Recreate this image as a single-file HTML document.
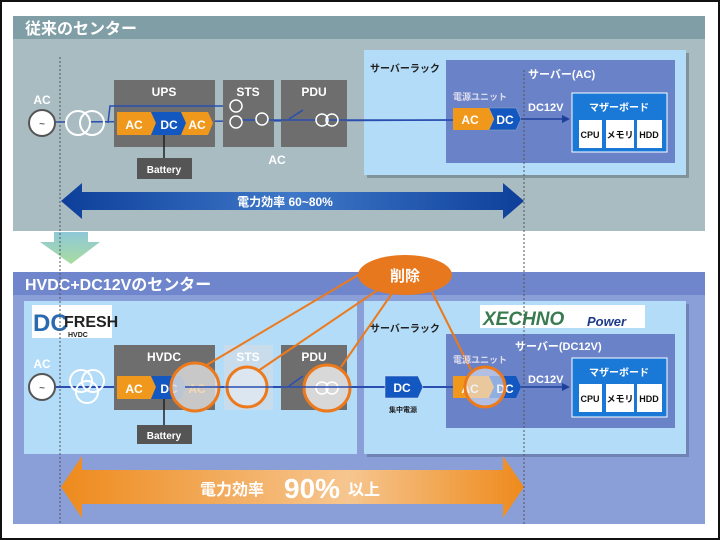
<!DOCTYPE html>
<html><head><meta charset="utf-8"><style>
html,body{margin:0;padding:0;background:#fff}
svg{display:block}
text{font-family:"Liberation Sans","Noto Sans CJK JP",sans-serif;font-weight:bold}
</style></head><body>
<svg width="720" height="540" viewBox="0 0 720 540" xmlns="http://www.w3.org/2000/svg">
<defs>
<linearGradient id="bl" x1="0" x2="1" y1="0" y2="0"><stop offset="0" stop-color="#0d3f9a"/><stop offset="0.5" stop-color="#3f78c8"/><stop offset="1" stop-color="#0d3f9a"/></linearGradient>
<linearGradient id="or" x1="0" x2="1" y1="0" y2="0"><stop offset="0" stop-color="#ee8a1c"/><stop offset="0.62" stop-color="#f6c690"/><stop offset="1" stop-color="#ee8a1c"/></linearGradient>
<linearGradient id="gr" x1="0" x2="0" y1="0" y2="1"><stop offset="0" stop-color="#8fc8d8"/><stop offset="1" stop-color="#a8dca0"/></linearGradient>
</defs>
<rect x="0" y="0" width="720" height="540" fill="#fff" stroke="#111" stroke-width="4"/>
<!-- TOP -->
<rect x="13" y="16" width="692" height="23" fill="#7f9ea6"/>
<rect x="13" y="39" width="692" height="192" fill="#a9bcc2"/>
<text x="25" y="34" font-size="16" fill="#fff">従来のセンター</text>
<rect x="367" y="53" width="322" height="125" fill="#5a6a70" opacity="0.5"/>
<rect x="364" y="50" width="322" height="125" fill="#b3dcf8"/>
<text x="370" y="72" font-size="10" fill="#222">サーバーラック</text>
<rect x="446" y="60" width="229" height="103" fill="#6a82c8"/>
<text x="528" y="78" font-size="11" fill="#fff">サーバー(AC)</text>
<line x1="55" y1="122" x2="460" y2="120" stroke="#2a4eb0" stroke-width="1.5"/>
<circle cx="42" cy="123" r="13" fill="#fff" stroke="#555" stroke-width="2"/>
<text x="42" y="127" font-size="10" fill="#666" text-anchor="middle">~</text>
<text x="42" y="104" font-size="12" fill="#fff" text-anchor="middle">AC</text>
<circle cx="78" cy="123" r="12" fill="#a9bcc2" stroke="#fff" stroke-width="2"/>
<circle cx="92" cy="123" r="12" fill="none" stroke="#fff" stroke-width="2"/>
<rect x="114" y="80" width="101" height="67" fill="#6e6e6e"/>
<text x="164" y="96" font-size="12" fill="#fff" text-anchor="middle">UPS</text>
<polyline points="108,123 110,106 232,106" fill="none" stroke="#2a4eb0" stroke-width="1.5"/>
<polygon points="117,112 151,112 156,123 151,135 117,135" fill="#f0981c"/>
<polygon points="151,112 181,112 186,123 181,135 151,135 156,123" fill="#1258c0"/>
<polygon points="181,112 208,112 213,123 208,135 181,135 186,123" fill="#f0981c"/>
<text x="134" y="129" font-size="12" fill="#fff" text-anchor="middle">AC</text>
<text x="169" y="129" font-size="12" fill="#fff" text-anchor="middle">DC</text>
<text x="197" y="129" font-size="12" fill="#fff" text-anchor="middle">AC</text>
<line x1="164" y1="135" x2="164" y2="158" stroke="#222" stroke-width="1.5"/>
<rect x="137" y="158" width="55" height="21" fill="#555"/>
<text x="164" y="173" font-size="10" fill="#fff" text-anchor="middle">Battery</text>
<rect x="223" y="80" width="51" height="67" fill="#6e6e6e"/>
<text x="248" y="96" font-size="12" fill="#fff" text-anchor="middle">STS</text>
<rect x="281" y="80" width="66" height="67" fill="#6e6e6e"/>
<text x="314" y="96" font-size="12" fill="#fff" text-anchor="middle">PDU</text>
<line x1="240" y1="120" x2="460" y2="120" stroke="#2a4eb0" stroke-width="1.5"/>
<circle cx="236" cy="106" r="6" fill="#6e6e6e" stroke="#fff" stroke-width="1.5"/>
<circle cx="236" cy="122" r="6" fill="#6e6e6e" stroke="#fff" stroke-width="1.5"/>
<circle cx="262" cy="119" r="6" fill="#6e6e6e" stroke="#fff" stroke-width="1.5"/>
<line x1="289" y1="119" x2="303" y2="110" stroke="#2a4eb0" stroke-width="1.5"/>
<circle cx="322" cy="120" r="6" fill="#6e6e6e" stroke="#fff" stroke-width="1.5"/>
<circle cx="332" cy="120" r="6" fill="none" stroke="#fff" stroke-width="1.5"/>
<text x="277" y="164" font-size="12" fill="#fff" text-anchor="middle">AC</text>
<text x="453" y="100" font-size="9" fill="#dde">電源ユニット</text>
<polygon points="453,108 489,108 494,119 489,130 453,130" fill="#f0981c"/>
<polygon points="489,108 516,108 521,119 516,130 489,130 494,119" fill="#1258c0" stroke="#9ab" stroke-width="0.5"/>
<text x="470" y="124" font-size="12" fill="#fff" text-anchor="middle">AC</text>
<text x="505" y="124" font-size="12" fill="#fff" text-anchor="middle">DC</text>
<text x="528" y="111" font-size="11" fill="#fff">DC12V</text>
<line x1="521" y1="119" x2="564" y2="119" stroke="#1e3f9a" stroke-width="1.5"/>
<polygon points="570,119 562,115 562,123" fill="#1e3f9a"/>
<rect x="572" y="93" width="95" height="59" fill="#1a78d6" stroke="#fff" stroke-width="1"/>
<text x="619" y="111" font-size="10" fill="#fff" text-anchor="middle">マザーボード</text>
<rect x="579" y="120" width="23" height="28" fill="#fff"/><text x="590" y="138" font-size="9" fill="#111" text-anchor="middle" font-weight="normal">CPU</text>
<rect x="606" y="120" width="28" height="28" fill="#fff"/><text x="620" y="138" font-size="9" fill="#111" text-anchor="middle" font-weight="normal">メモリ</text>
<rect x="637" y="120" width="25" height="28" fill="#fff"/><text x="649" y="138" font-size="9" fill="#111" text-anchor="middle" font-weight="normal">HDD</text>
<polygon points="61,201 82,183 82,192 503,192 503,183 524,201 503,219 503,210 82,210 82,219" fill="url(#bl)"/>
<text x="285" y="206" font-size="12" fill="#fff" text-anchor="middle">電力効率 60~80%</text>
<polygon points="54,232 88,232 88,242 100,242 71,264 40,242 54,242" fill="url(#gr)"/>
<!-- BOTTOM -->
<rect x="13" y="272" width="692" height="23" fill="#6f86cc"/>
<rect x="13" y="295" width="692" height="229" fill="#8a9fd8"/>
<text x="25" y="290" font-size="16" fill="#fff">HVDC+DC12Vのセンター</text>
<rect x="24" y="301" width="333" height="153" fill="#b3dcf8"/>
<rect x="367" y="304" width="322" height="153" fill="#4a5a80" opacity="0.4"/>
<rect x="364" y="301" width="322" height="153" fill="#b3dcf8"/>
<rect x="32" y="305" width="80" height="33" fill="#fff"/>
<text x="33" y="331" font-size="24" fill="#2a6ab0" font-weight="normal">DC</text>
<text x="64" y="327" font-size="16" fill="#222" font-weight="normal">FRESH</text>
<text x="68" y="337" font-size="7" fill="#222" font-weight="normal">HVDC</text>
<rect x="480" y="305" width="165" height="23" fill="#fff"/>
<text x="483" y="325" font-size="19" fill="#3a7a50" font-style="italic">XECHNO</text>
<text x="587" y="326" font-size="13" fill="#1e3a8a" font-style="italic">Power</text>
<text x="370" y="332" font-size="10" fill="#222">サーバーラック</text>
<rect x="446" y="334" width="229" height="94" fill="#6a82c8"/>
<text x="515" y="350" font-size="11" fill="#fff">サーバー(DC12V)</text>
<line x1="55" y1="387" x2="455" y2="387" stroke="#2a4eb0" stroke-width="2"/>
<circle cx="42" cy="387" r="13" fill="#fff" stroke="#555" stroke-width="2"/>
<text x="42" y="391" font-size="10" fill="#666" text-anchor="middle">~</text>
<text x="42" y="368" font-size="12" fill="#fff" text-anchor="middle">AC</text>
<circle cx="81" cy="381" r="11" fill="none" stroke="#fff" stroke-width="2"/>
<circle cx="93" cy="381" r="11" fill="none" stroke="#fff" stroke-width="2"/>
<circle cx="87" cy="392" r="11" fill="none" stroke="#fff" stroke-width="2"/>
<rect x="114" y="345" width="101" height="65" fill="#6e6e6e"/>
<text x="164" y="361" font-size="12" fill="#fff" text-anchor="middle">HVDC</text>
<polygon points="117,376 151,376 156,387 151,399 117,399" fill="#f0981c"/>
<polygon points="151,376 181,376 186,387 181,399 151,399 156,387" fill="#1258c0"/>
<text x="134" y="393" font-size="12" fill="#fff" text-anchor="middle">AC</text>
<text x="169" y="393" font-size="12" fill="#fff" text-anchor="middle">DC</text>
<line x1="164" y1="399" x2="164" y2="425" stroke="#222" stroke-width="1.5"/>
<rect x="137" y="425" width="55" height="19" fill="#555"/>
<text x="164" y="439" font-size="10" fill="#fff" text-anchor="middle">Battery</text>
<rect x="224" y="345" width="49" height="65" fill="#c8dcec"/>
<text x="248" y="361" font-size="12" fill="#fff" text-anchor="middle">STS</text>
<rect x="281" y="345" width="66" height="65" fill="#6e6e6e"/>
<text x="314" y="361" font-size="12" fill="#fff" text-anchor="middle">PDU</text>
<g stroke="#ec7a1c" stroke-width="2">
<line x1="205" y1="366" x2="370" y2="268"/>
<line x1="258" y1="371" x2="385" y2="285"/>
<line x1="341" y1="367" x2="393" y2="292"/>
<line x1="471" y1="370" x2="431" y2="290"/>
</g>
<circle cx="195" cy="387" r="24" fill="#d8d8d8" fill-opacity="0.85" stroke="#ec7a1c" stroke-width="3"/>
<text x="197" y="393" font-size="12" fill="#f6d8b0" text-anchor="middle">AC</text>
<circle cx="247" cy="387" r="20" fill="#dce6f0" stroke="#ec7a1c" stroke-width="3"/>
<circle cx="327" cy="388" r="23" fill="#d8d8d8" stroke="#ec7a1c" stroke-width="3"/>
<circle cx="322" cy="388" r="6" fill="none" stroke="#fff" stroke-width="1.5"/>
<circle cx="332" cy="388" r="6" fill="none" stroke="#fff" stroke-width="1.5"/>
<line x1="185" y1="387" x2="460" y2="387" stroke="#2a4eb0" stroke-width="1.5"/>
<line x1="289" y1="386" x2="303" y2="376" stroke="#2a4eb0" stroke-width="1.5"/>
<ellipse cx="405" cy="275" rx="47" ry="20" fill="#e8781e"/>
<text x="405" y="281" font-size="15" fill="#fff" text-anchor="middle">削除</text>
<polygon points="385,376 418,376 423,387 418,398 385,398" fill="#1258c0" stroke="#dde" stroke-width="0.5"/>
<text x="402" y="392" font-size="12" fill="#fff" text-anchor="middle">DC</text>
<text x="403" y="412" font-size="7" fill="#222" text-anchor="middle">集中電源</text>
<text x="453" y="363" font-size="9" fill="#dde">電源ユニット</text>
<polygon points="453,376 489,376 494,387 489,398 453,398" fill="#f0981c"/>
<polygon points="489,376 516,376 521,387 516,398 489,398 494,387" fill="#1258c0"/>
<text x="470" y="393" font-size="12" fill="#fff" text-anchor="middle">AC</text>
<text x="505" y="393" font-size="12" fill="#fff" text-anchor="middle">DC</text>
<circle cx="485" cy="387" r="20" fill="#e4e8f4" fill-opacity="0.6" stroke="#ec7a1c" stroke-width="3"/>
<text x="528" y="383" font-size="11" fill="#fff">DC12V</text>
<line x1="521" y1="387" x2="564" y2="387" stroke="#1e3f9a" stroke-width="1.5"/>
<polygon points="570,387 562,383 562,391" fill="#1e3f9a"/>
<rect x="572" y="358" width="95" height="59" fill="#1a78d6" stroke="#fff" stroke-width="1"/>
<text x="619" y="376" font-size="10" fill="#fff" text-anchor="middle">マザーボード</text>
<rect x="579" y="384" width="23" height="28" fill="#fff"/><text x="590" y="402" font-size="9" fill="#111" text-anchor="middle" font-weight="normal">CPU</text>
<rect x="606" y="384" width="28" height="28" fill="#fff"/><text x="620" y="402" font-size="9" fill="#111" text-anchor="middle" font-weight="normal">メモリ</text>
<rect x="637" y="384" width="25" height="28" fill="#fff"/><text x="649" y="402" font-size="9" fill="#111" text-anchor="middle" font-weight="normal">HDD</text>
<polygon points="61,487 82,456 82,470 503,470 503,456 524,487 503,518 503,504 82,504 82,518" fill="url(#or)"/>
<text x="200" y="495" font-size="16" fill="#fff">電力効率</text>
<text x="284" y="498" font-size="28" fill="#fff">90%</text>
<text x="348" y="495" font-size="16" fill="#fff">以上</text>
<line x1="60" y1="57" x2="60" y2="525" stroke="#555" stroke-width="1" stroke-dasharray="2,2"/>
<line x1="524" y1="70" x2="524" y2="525" stroke="#555" stroke-width="1" stroke-dasharray="2,2"/>
</svg>
</body></html>
